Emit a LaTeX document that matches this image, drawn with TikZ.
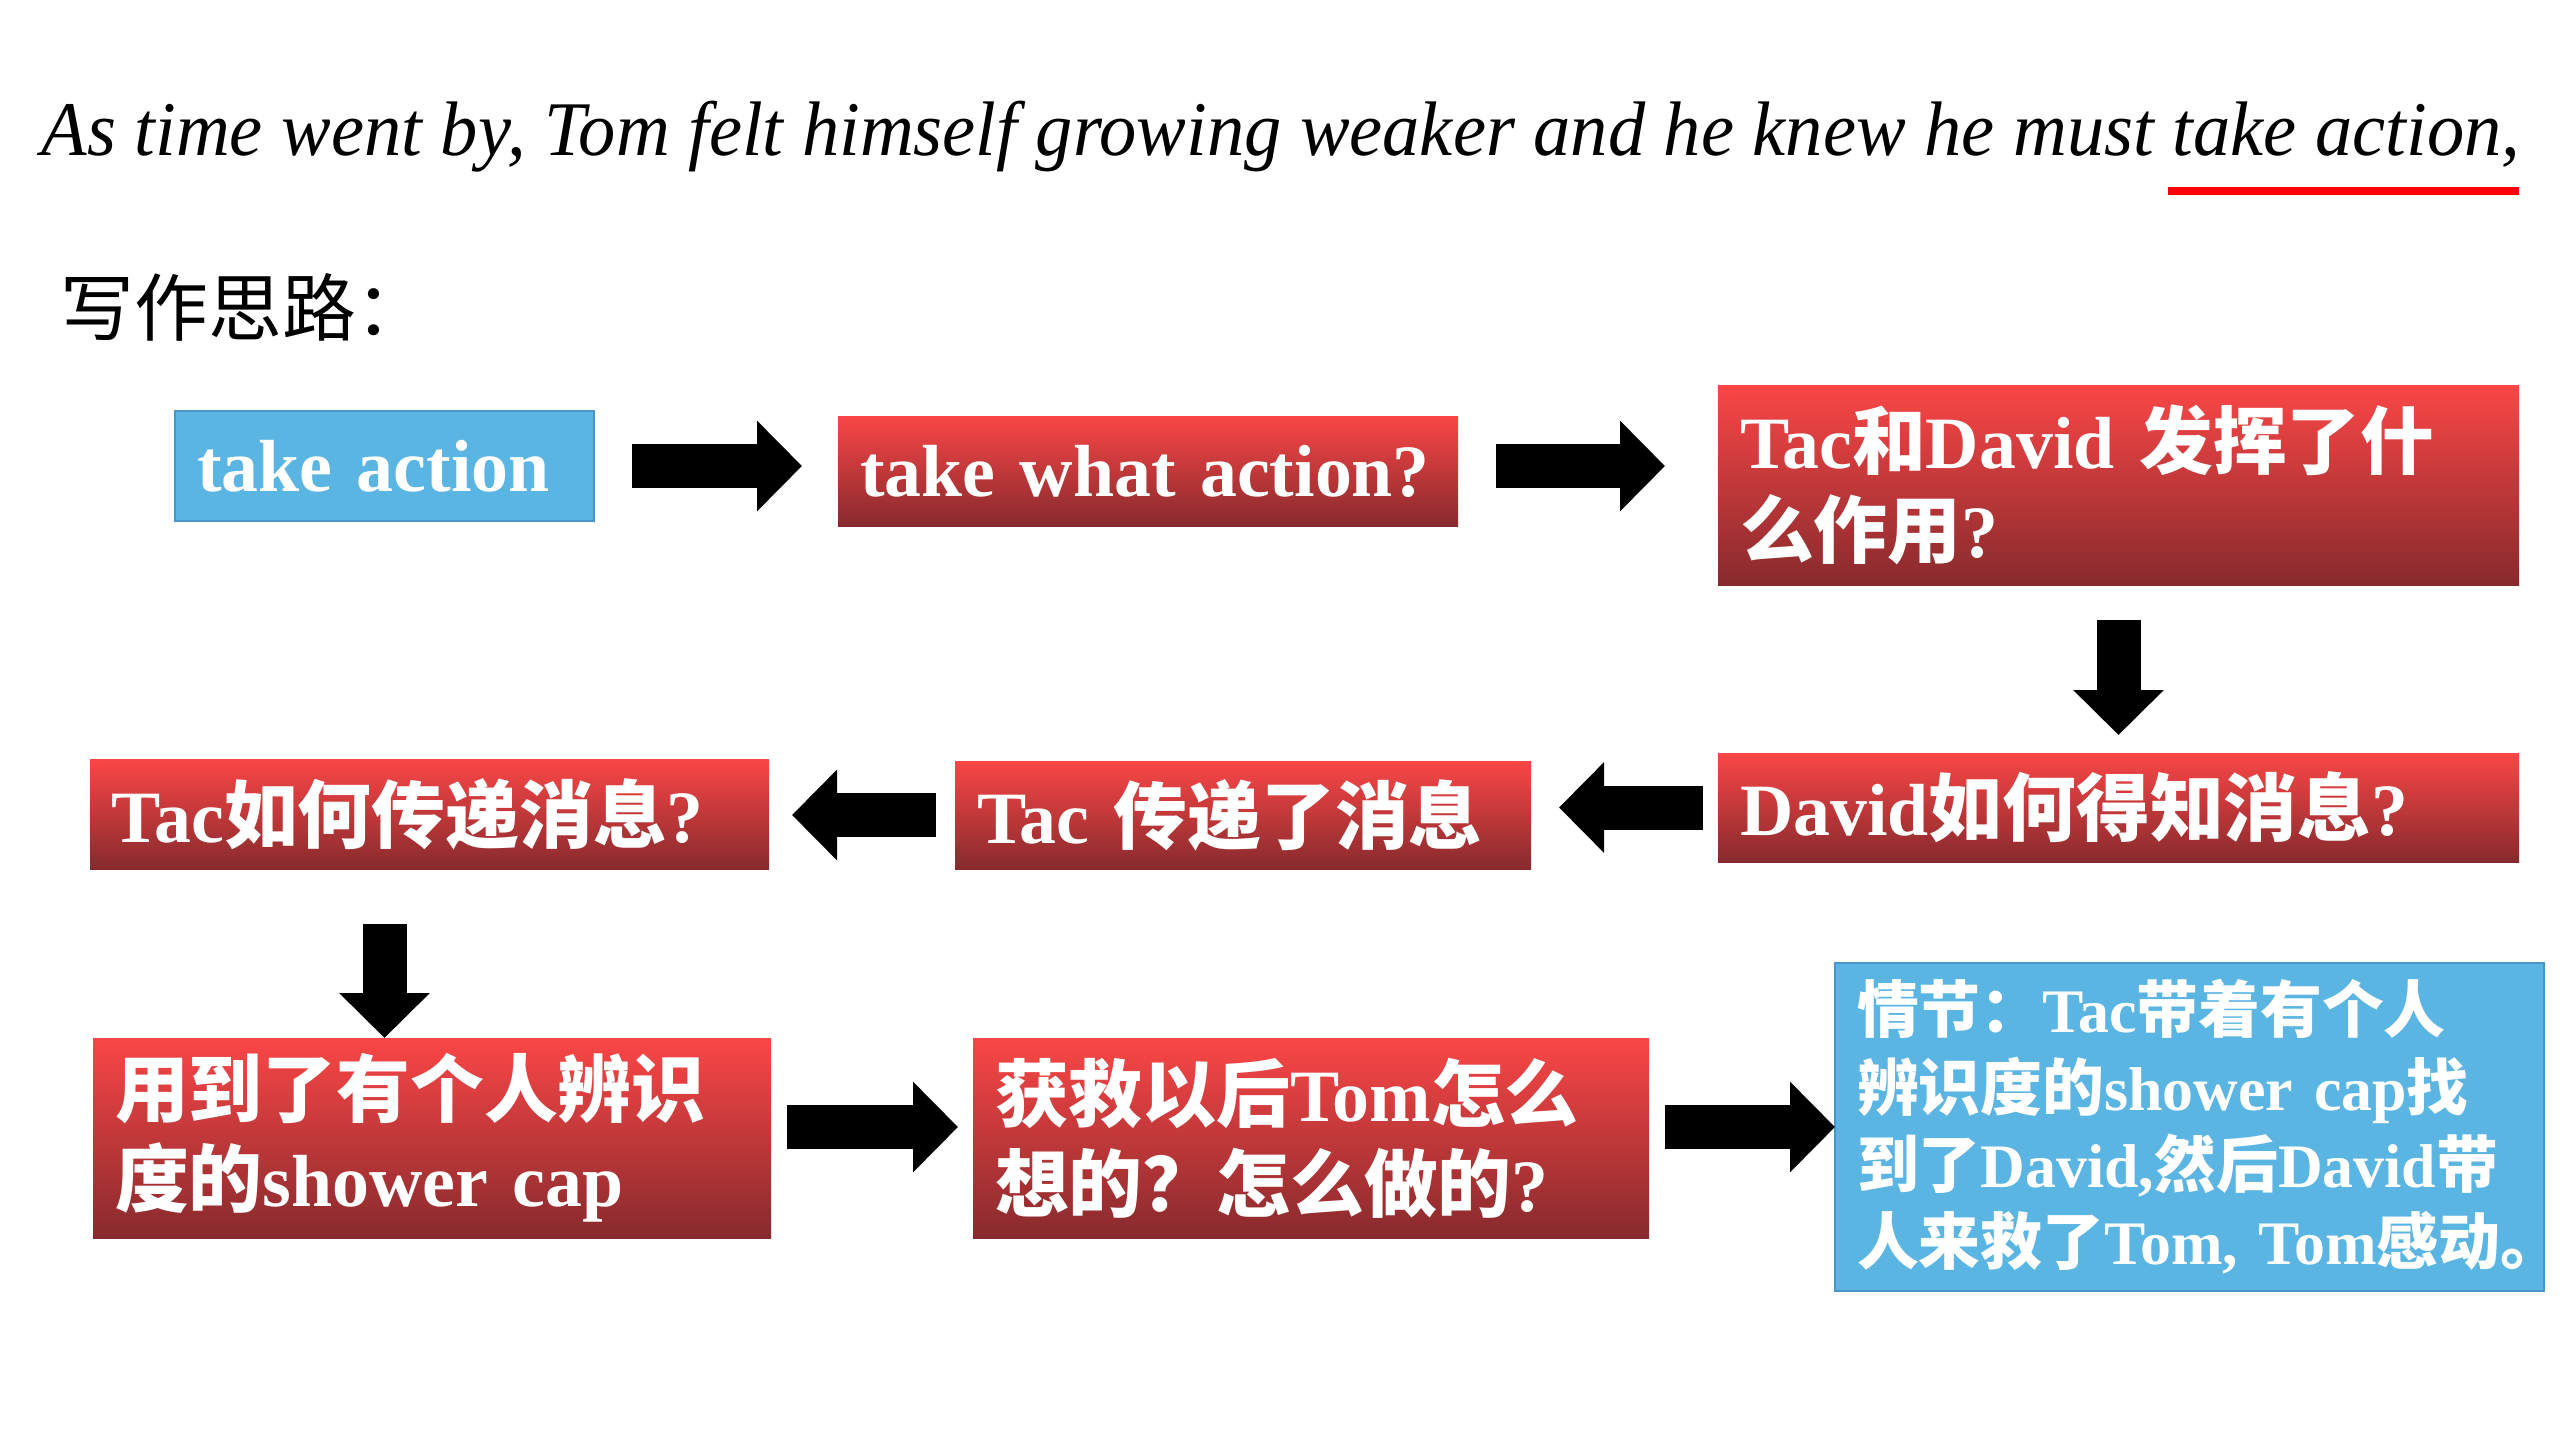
\documentclass[tikz,border=0pt]{standalone}
\usepackage{fontspec}
\setmainfont{Liberation Serif}
\newfontfamily\titlefont{Liberation Serif}[FakeStretch=0.963]
\newfontfamily\zhfont{Noto Sans CJK SC}
\usepackage{tikz}
\usetikzlibrary{positioning,arrows.meta,calc}
\definecolor{skyblue}{RGB}{91,181,226}
\definecolor{skyedge}{RGB}{74,148,200}
\definecolor{redtop}{RGB}{250,70,70}
\definecolor{redbot}{RGB}{135,42,45}
\definecolor{markred}{RGB}{255,0,0}
\newcommand{\zh}[1]{{\zhfont\bfseries #1}}
\tikzset{
  box/.style={anchor=north west, inner xsep=2.2mm, inner ysep=0pt, outer sep=0pt,
              align=left, text=white, font=\fontsize{21}{25.5}\selectfont\bfseries},
  bluebox/.style={box, draw=skyedge, line width=0.4pt, fill=skyblue},
  redbox/.style={box, top color=redtop, bottom color=redbot},
  blockarrow/.style={-{Triangle[length=4.5mm,width=8.8mm]}, line width=4.4mm, black},
}

\begin{document}
\begin{tikzpicture}
  \path[use as bounding box, fill=white] (0,0) rectangle (25.6,-14.4);
  \node[anchor=base west, inner sep=0pt, font=\fontsize{22}{26}\selectfont\titlefont\itshape] (sentence) at (0.41,-1.55)
    {As time went by, Tom felt himself growing weaker and he knew he must take action,};
  \fill[markred] (21.68,-1.87) rectangle (25.19,-1.95);
  \node[anchor=west, inner sep=0pt, font=\fontsize{21}{24}\selectfont\zhfont] (outline) at (0.60,-3.07) {写作思路：};

  \node[bluebox, text width=3.75cm, minimum height=1.10cm] (takeact)   at (1.75,-4.11)  {take action};
  \node[redbox,  text width=5.76cm, minimum height=1.10cm] (takewhat)  at (8.38,-4.16)  {take what action?};
  \node[redbox,  text width=7.57cm, minimum height=2.00cm] (roles)     at (17.18,-3.85) {Tac\zh{和}David \zh{发挥了什}\\\zh{么作用}?};
  \node[redbox,  text width=7.57cm, minimum height=1.09cm] (davidknow) at (17.18,-7.53) {David\zh{如何得知消息}?};
  \node[redbox,  text width=5.32cm, minimum height=1.08cm] (tacpassed) at (9.55,-7.61)  {Tac \zh{传递了消息}};
  \node[redbox,  text width=6.35cm, minimum height=1.10cm] (tacask)    at (0.90,-7.59)  {Tac\zh{如何传递消息}?};
  \node[redbox,  text width=6.34cm, minimum height=2.00cm] (shower)    at (0.93,-10.38) {\zh{用到了有个人辨识}\\\zh{度的}shower cap};
  \node[redbox,  text width=6.32cm, minimum height=2.00cm] (rescued)   at (9.73,-10.38) {\zh{获救以后}Tom\zh{怎么}\\\zh{想的？怎么做的}?};
  \node[bluebox, text width=6.65cm, minimum height=3.28cm, font=\fontsize{17.6}{22}\selectfont\bfseries] (plot) at (18.35,-9.63)
    {\zh{情节：}Tac\zh{带着有个人}\\\zh{辨识度的}shower~cap\zh{找}\\\zh{到了}David,\zh{然后}David\zh{带}\\\zh{人来救了}Tom,~Tom\zh{感动}\makebox[0.45em][l]{\zh{。}}};

  \draw[blockarrow, shorten <=3.8mm, shorten >=3.6mm] (takeact.east) -- (takeact.east -| takewhat.west);
  \draw[blockarrow, shorten <=3.8mm, shorten >=5.3mm] (takeact.east -| takewhat.east) -- (takeact.east -| roles.west);
  \draw[blockarrow, shorten <=3.5mm, shorten >=1.8mm] (roles.south) -- (davidknow.north);
  \draw[blockarrow, shorten <=1.5mm, shorten >=2.8mm] (davidknow.west) -- (davidknow.west -| tacpassed.east);
  \draw[blockarrow, shorten <=1.9mm, shorten >=2.3mm] (tacpassed.west) -- (tacpassed.west -| tacask.east);
  \draw[blockarrow, shorten <=5.5mm] ([xshift=-4.5mm]tacask.south) -- ([xshift=-4.5mm]tacask.south |- shower.north);
  \draw[blockarrow, shorten <=1.6mm, shorten >=1.5mm] (shower.east |- plot.west) -- (rescued.west |- plot.west);
  \draw[blockarrow, shorten <=1.6mm] (rescued.east |- plot.west) -- (plot.west);
\end{tikzpicture}
\end{document}
